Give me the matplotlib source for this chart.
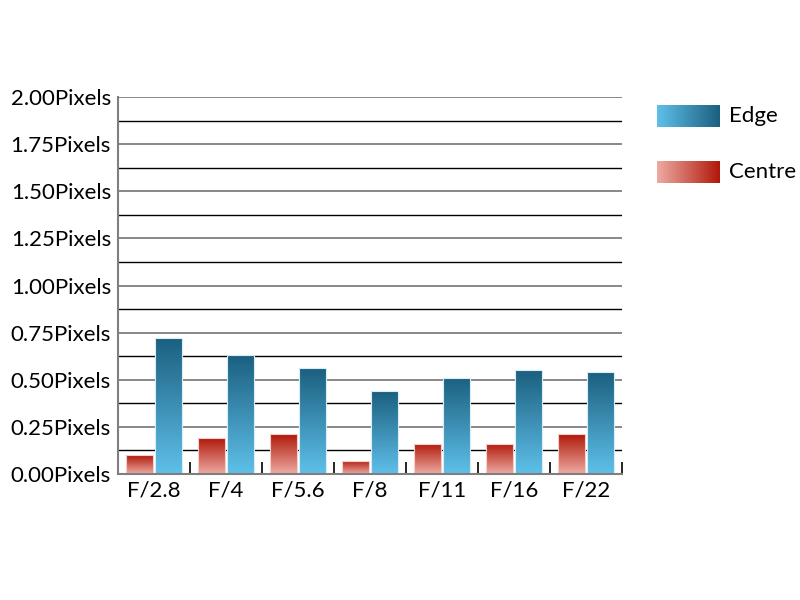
import matplotlib
matplotlib.use("Agg")
import matplotlib.pyplot as plt
import numpy as np
from matplotlib.colors import LinearSegmentedColormap
from matplotlib.patches import Rectangle

categories = ["F/2.8", "F/4", "F/5.6", "F/8", "F/11", "F/16", "F/22"]
centre = [0.10, 0.19, 0.21, 0.07, 0.16, 0.16, 0.21]
edge = [0.72, 0.63, 0.56, 0.44, 0.51, 0.55, 0.54]
yticks = [0.0, 0.25, 0.5, 0.75, 1.0, 1.25, 1.5, 1.75, 2.0]
ytick_labels = ["%.2fPixels" % v for v in yticks]

plt.rcParams['font.family'] = ['Lato', 'DejaVu Sans']

fig = plt.figure(figsize=(8, 6), dpi=100)
ax = fig.add_axes([118/800, 1-474/600, (622-118)/800, (474-97)/600])

edge_cmap = LinearSegmentedColormap.from_list("edge", ["#5fc0ea", "#1b5f7f"])
centre_cmap = LinearSegmentedColormap.from_list("centre", ["#eeaba3", "#b0180a"])

x = np.arange(len(categories))
w = 0.375
gap = 0.028
cb = ax.bar(x - gap/2 - w/2, centre, width=w, color="none", edgecolor="none", zorder=3)
eb = ax.bar(x + gap/2 + w/2, edge, width=w, color="none", edgecolor="none", zorder=3)

grad = np.linspace(0, 1, 256).reshape(-1, 1)
for bars, cmap in ((cb, centre_cmap), (eb, edge_cmap)):
    for b in bars:
        x0, y0 = b.get_x(), b.get_y()
        bw, bh = b.get_width(), b.get_height()
        im = ax.imshow(grad, cmap=cmap, origin="lower", aspect="auto",
                       extent=[x0, x0 + bw, y0, y0 + bh], zorder=3)
        im.set_clip_path(b)
        ax.add_patch(Rectangle((x0, y0), bw, bh, fill=False,
                               edgecolor="#d8eef7" if cmap is edge_cmap else "#f5d0cb",
                               linewidth=0.8, zorder=4))

ax.set_xlim(-0.5, len(categories) - 0.5)
ax.set_ylim(0, 2.0)

# gridlines
for v in np.arange(0, 2.001, 0.125):
    major = abs(v / 0.25 - round(v / 0.25)) < 1e-6
    ax.axhline(v, color="#7f7f7f" if major else "#000000",
               linewidth=1.3 if major else 1.0, zorder=1)

ax.set_yticks(yticks)
ax.set_yticklabels(ytick_labels, fontsize=16)
ax.tick_params(axis="y", length=0, pad=5)

ax.set_xticks(x)
ax.set_xticklabels(categories, fontsize=16)
ax.tick_params(axis="x", which="major", length=0, pad=5)
ax.set_xticks(np.arange(0.5, len(categories) - 0.4, 1.0), minor=True)
ax.tick_params(axis="x", which="minor", direction="in", length=9, width=1.2, color="#000000")

for s in ("top", "right"):
    ax.spines[s].set_visible(False)
for s in ("left", "bottom"):
    ax.spines[s].set_color("#7f7f7f")
    ax.spines[s].set_linewidth(1.5)
    ax.spines[s].set_zorder(5)

# legend with horizontal gradients
lax = fig.add_axes([0, 0, 1, 1], facecolor="none")
lax.set_xlim(0, 800)
lax.set_ylim(600, 0)
lax.axis("off")
hgrad = np.linspace(0, 1, 256).reshape(1, -1)
for (yy, cmap, label) in ((105, edge_cmap, "Edge"), (161, centre_cmap, "Centre")):
    lax.imshow(hgrad, cmap=cmap, aspect="auto", extent=[657, 720, yy + 22, yy])
    lax.text(729, yy + 11, label, fontsize=16, va="center", ha="left")

fig.savefig("out.png", dpi=100)
